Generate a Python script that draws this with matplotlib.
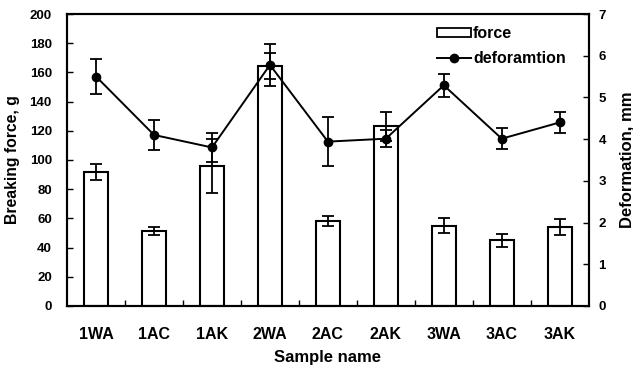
import numpy as np
import matplotlib
matplotlib.use("Agg")
import matplotlib.pyplot as plt
from matplotlib.lines import Line2D
from matplotlib.patches import Patch

samples = ["1WA", "1AC", "1AK", "2WA", "2AC", "2AK", "3WA", "3AC", "3AK"]
force = [91.6, 51.4, 95.9, 164.5, 58.0, 123.0, 55.0, 45.0, 54.0]
force_err = [5.5, 3.0, 18.3, 9.0, 3.5, 10.0, 5.0, 4.5, 5.5]
deformation = [5.50, 4.10, 3.80, 5.78, 3.94, 4.01, 5.29, 4.01, 4.40]
deformation_err = [0.43, 0.35, 0.34, 0.50, 0.58, 0.20, 0.28, 0.25, 0.26]

plt.rcParams["font.family"] = ["Liberation Sans", "DejaVu Sans"]
plt.rcParams["font.weight"] = "bold"
plt.rcParams["font.size"] = 10

fig = plt.figure(figsize=(6.33, 3.69), dpi=100)
ax = fig.add_axes([0.106, 0.171, 0.824, 0.791])

x = np.arange(len(samples))
ax.bar(x, force, width=0.41, color="white", edgecolor="black", linewidth=1.5,
       yerr=force_err, error_kw=dict(ecolor="black", elinewidth=1.3, capsize=4, capthick=1.3),
       zorder=2)

ax.set_xlim(-0.5, len(samples) - 0.5)
ax.set_ylim(0, 200)
ax.set_yticks(np.arange(0, 201, 20))
ax.set_xticks(x)
ax.set_xticklabels(samples, fontweight="bold", fontsize=11.5)
ax.tick_params(axis="x", length=0, pad=15)
ax.set_xticks(np.arange(0.5, len(samples) - 1, 1), minor=True)
ax.tick_params(axis="x", which="minor", direction="in", length=4, width=1)
ax.tick_params(axis="y", direction="in", length=4, width=1, pad=11, labelsize=9.5)
ax.set_ylabel("Breaking force, g", fontweight="bold", fontsize=11.3)
ax.yaxis.set_label_coords(-0.09, 0.5)
ax.set_xlabel("Sample name", fontweight="bold", fontsize=12)
ax.xaxis.set_label_coords(0.5, -0.152)
for s in ax.spines.values():
    s.set_linewidth(1.5)

ax2 = ax.twinx()
ax2.errorbar(x, deformation, yerr=deformation_err, color="black", linewidth=1.4,
             marker="o", markersize=6, ecolor="black", elinewidth=1.3, capsize=4,
             capthick=1.3, zorder=3)
ax2.set_ylim(0, 7)
ax2.set_yticks(np.arange(0, 8, 1))
ax2.tick_params(axis="y", direction="in", length=4, width=1, pad=7, labelsize=9.5)
ax2.set_ylabel("Deformation, mm", fontweight="bold", fontsize=12, rotation=90)
ax2.yaxis.set_label_coords(1.059, 0.5)
for s in ax2.spines.values():
    s.set_linewidth(1.5)

handles = [Patch(facecolor="white", edgecolor="black", linewidth=1.3, label="force"),
           Line2D([], [], color="black", linewidth=1.4, marker="o", markersize=6,
                  label="deforamtion")]
ax2.legend(handles=handles, loc="upper left", bbox_to_anchor=(0.688, 0.997),
           frameon=False, handlelength=2.1, handleheight=0.5, handletextpad=0.15,
           labelspacing=0.6, borderpad=0.2, prop={"weight": "bold", "size": 11.5})

fig.savefig("out.png", dpi=100)
